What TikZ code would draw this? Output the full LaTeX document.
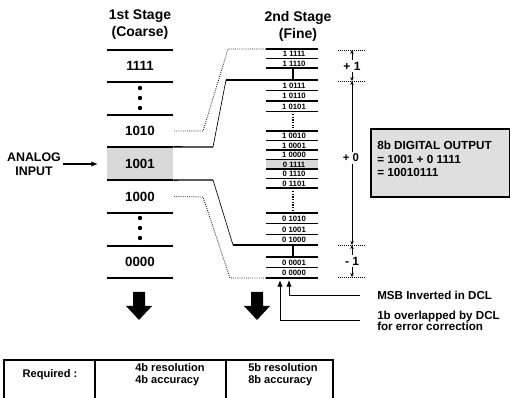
\documentclass[tikz,border=0pt]{standalone}
\usepackage{fontspec}
\setmainfont{Liberation Sans}
\usetikzlibrary{arrows.meta,calc}

\begin{document}
\begin{tikzpicture}[x=0.75pt,y=-0.75pt,>={Latex[length=5pt,width=4pt]},
  head/.style={font=\fontsize{10.5}{12.8}\selectfont\bfseries,align=center,inner sep=0pt},
  cell/.style={font=\fontsize{10}{11}\selectfont\bfseries,minimum width=49.5pt,
    minimum height=24.5pt,inner sep=0pt},
  finelbl/.style={font=\fontsize{5.8}{5.8}\selectfont\bfseries,inner sep=0pt},
  note/.style={font=\fontsize{8.7}{8.5}\selectfont\bfseries,align=left,inner sep=0pt},
  tbl/.style={font=\fontsize{8.3}{9}\selectfont\bfseries,align=left,inner sep=0pt},
  coarse/.style={line width=1pt},
  fine/.style={line width=0.85pt},
  link/.style={densely dotted,line width=0.6pt},
  tick/.style={densely dotted,line width=0.5pt},
  dim/.style={line width=0.6pt,-{Stealth[length=3pt,width=2.6pt]}}]
  \useasboundingbox (0,0) rectangle (511,398);

  \node[head] (h1) at (140,25) {1st Stage\\(Coarse)};
  \node[head] (h2) at (298,26) {2nd Stage\\(Fine)};

  \node[cell] (c1111) at (140,66) {1111};
  \node[cell] (c1010) at (140,131) {1010};
  \node[cell,fill=gray!30] (c1001) at (140,163.5) {1001};
  \node[cell] (c1000) at (140,196.5) {1000};
  \node[cell] (c0000) at (140,262) {0000};
  \foreach \y in {50,82,115,147,180,213,246,278}
    \draw[coarse] (107,\y) -- (173,\y);
  \foreach \y in {88,98,108,218,228,238}
    \fill (140,\y) circle (2.2);

  \node[font=\fontsize{9.3}{10.5}\selectfont\bfseries,align=center,inner sep=0pt]
    (ain) at (34,164) {ANALOG\\INPUT};
  \draw[->,line width=1pt,shorten >=6.5pt] (ain.east) ++(2,0) -- (c1001.west |- ain.east);

  \fill[gray!30] (266,159.5) rectangle (318,169);
  \foreach \y in {49,58.5,68,80,90.5,101,111.5,131,140.5,150,159.5,169,178.5,188,
      213,223.7,234.3,245,257,267.5,278}
    \draw[fine] (266,\y) -- (318,\y);
  \foreach \t/\y [count=\i] in {1 1111/54.3,1 1110/63.8,1 0111/85.8,1 0110/96.3,1 0101/106.8,
      1 0010/136.3,1 0001/145.8,1 0000/155.3,0 1111/164.8,0 1110/174.3,0 1101/183.8,
      0 1010/219,0 1001/229.6,0 1000/240.3,0 0001/262.8,0 0000/273.3}
    \node[finelbl] (f\i) at (294,\y) {\t};
  \draw[fine] (293,68) -- (293,80);
  \draw[fine] (293,245) -- (293,257);
  \draw[densely dotted,line width=1pt] (293,114) -- (293,128);
  \draw[densely dotted,line width=1pt] (293,191) -- (293,210);

  \coordinate (ftop) at (266,49);
  \coordinate (fhi) at (266,80);
  \coordinate (flo) at (266,245);
  \coordinate (fbot) at (266,278);
  \draw[link] (c1010.east) ++(1,0) -- (203,131) -- (228,49) -- (ftop);
  \draw[coarse] (c1001.north east) -- (213,147);
  \draw[line width=0.5pt] (213,147) -- (226,80);
  \draw[coarse] (226,80) -- (fhi);
  \draw[coarse] (c1001.south east) -- (213,180);
  \draw[line width=0.5pt] (213,180) -- (233,245);
  \draw[coarse] (233,245) -- (flo);
  \draw[link] (c1000.east) ++(1,0) -- (203,197) -- (230,278) -- (fbot);

  \coordinate (t1) at (352,50);
  \coordinate (t2) at (352,81);
  \coordinate (t3) at (352,245);
  \coordinate (t4) at (352,277);
  \foreach \p in {t1,t2,t3,t4}
    \draw[tick] ($(\p)+(-14,0)$) -- ($(\p)+(14,0)$);
  \node[font=\fontsize{9}{9}\selectfont\bfseries,inner sep=1.5pt] (p1) at (352,66) {+ 1};
  \node[font=\fontsize{8.5}{9}\selectfont\bfseries,inner sep=1.5pt,fill=white] (p0) at (351,158) {+ 0};
  \node[font=\fontsize{9}{9}\selectfont\bfseries,inner sep=1.5pt] (m1) at (352,261) {- 1};
  \draw[dim] (p1.north -| t1) -- (t1);
  \draw[dim] (p1.south -| t1) -- (t2);
  \draw[dim] (p0.north -| t2) -- (t2);
  \draw[dim] (p0.south -| t3) -- (t3);
  \draw[dim] (m1.north -| t3) -- (t3);
  \draw[dim] (m1.south -| t4) -- (t4);

  \draw[line width=1.1pt,fill=gray!25] (371,129) rectangle (509.5,197);
  \node[note,font=\fontsize{8.8}{10}\selectfont\bfseries,anchor=north west] (dout) at (377,141)
    {8b DIGITAL OUTPUT\\= 1001 + 0 1111\\= 10010111};

  \coordinate (msb) at (289,280);
  \coordinate (ovl) at (280,280);
  \node[note,anchor=west] (msbtxt) at (377,295) {MSB Inverted in DCL};
  \node[note,anchor=west] (ovltxt) at (377,321) {1b overlapped by DCL\\for error correction};
  \draw[->,line width=0.6pt] ($(msbtxt.west)+(-13pt,0)$) -| (msb);
  \draw[->,line width=0.6pt] ($(ovltxt.west)+(-13pt,0.75pt)$) -| (ovl);

  \foreach \x in {139,257}
    \fill (\x-6,292) -- ++(12,0) -- ++(0,14) -- ++(7,0) -- (\x,320)
      -- (\x-13,306) -- ++(7,0) -- cycle;

  \draw[line width=0.8pt] (4,398) -- (4,360) -- (333,360) -- (333,398);
  \draw[line width=0.8pt] (95,360) -- (95,398);
  \draw[line width=0.8pt] (226,360) -- (226,398);
  \node[tbl] (req) at (50,375) {Required :};
  \node[tbl,anchor=west] (col1) at (135,375) {4b resolution\\4b accuracy};
  \node[tbl,anchor=west] (col2) at (248,375) {5b resolution\\8b accuracy};
\end{tikzpicture}
\end{document}
